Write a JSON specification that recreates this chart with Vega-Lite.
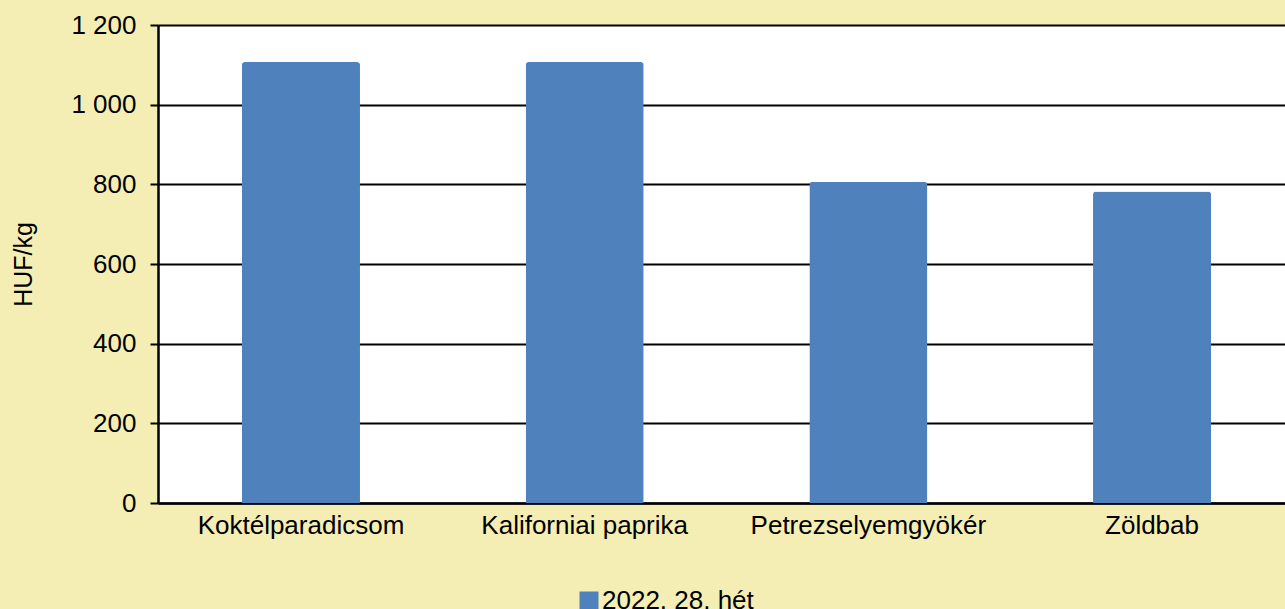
{
  "$schema": "https://vega.github.io/schema/vega-lite/v6.json",
  "width": 1127,
  "height": 478,
  "autosize": {"type": "none"},
  "padding": {"left": 158, "top": 25, "right": 0, "bottom": 106},
  "background": "#F4EEB4",
  "config": {
    "view": {"fill": "white", "stroke": null},
    "font": "Liberation Sans"
  },
  "data": {
    "values": [
      {"termek": "Koktélparadicsom", "ar": 1107, "het": "2022. 28. hét"},
      {"termek": "Kaliforniai paprika", "ar": 1107, "het": "2022. 28. hét"},
      {"termek": "Petrezselyemgyökér", "ar": 806, "het": "2022. 28. hét"},
      {"termek": "Zöldbab", "ar": 782, "het": "2022. 28. hét"}
    ]
  },
  "mark": {"type": "bar", "cornerRadiusTopLeft": 3, "cornerRadiusTopRight": 3},
  "encoding": {
    "x": {
      "field": "termek",
      "type": "nominal",
      "sort": null,
      "scale": {"paddingInner": 0.584, "paddingOuter": 0.296, "range": [0, 1137]},
      "axis": {
        "title": null,
        "labelAngle": 0,
        "labelFontSize": 26,
        "labelColor": "black",
        "labelPadding": 9,
        "labelLimit": 0,
        "ticks": false,
        "domainColor": "black",
        "domainWidth": 2.5,
        "grid": false
      }
    },
    "y": {
      "field": "ar",
      "type": "quantitative",
      "scale": {"domain": [0, 1200]},
      "axis": {
        "title": "HUF/kg",
        "titleFontSize": 25,
        "titleFontWeight": "normal",
        "titleColor": "black",
        "titleAngle": -90,
        "titleX": -135,
        "titleY": 239,
        "titleBaseline": "middle",
        "titleAlign": "center",
        "values": [0, 200, 400, 600, 800, 1000, 1200],
        "labelExpr": "replace(format(datum.value, ','), ',', ' ')",
        "labelFontSize": 26,
        "labelColor": "black",
        "labelPadding": 14,
        "tickSize": 8,
        "tickColor": "black",
        "tickWidth": 2,
        "domainColor": "black",
        "domainWidth": 2.5,
        "gridColor": "black",
        "gridWidth": 2,
        "gridOpacity": 1
      }
    },
    "color": {
      "field": "het",
      "type": "nominal",
      "scale": {"range": ["#4F81BD"]},
      "legend": {
        "title": null,
        "orient": "none",
        "legendX": 418,
        "legendY": 563,
        "padding": 0,
        "symbolType": "square",
        "symbolSize": 361,
        "symbolStrokeWidth": 0,
        "symbolOpacity": 1,
        "labelFontSize": 26,
        "labelColor": "black",
        "labelOffset": 0,
        "labelLimit": 0
      }
    }
  }
}
